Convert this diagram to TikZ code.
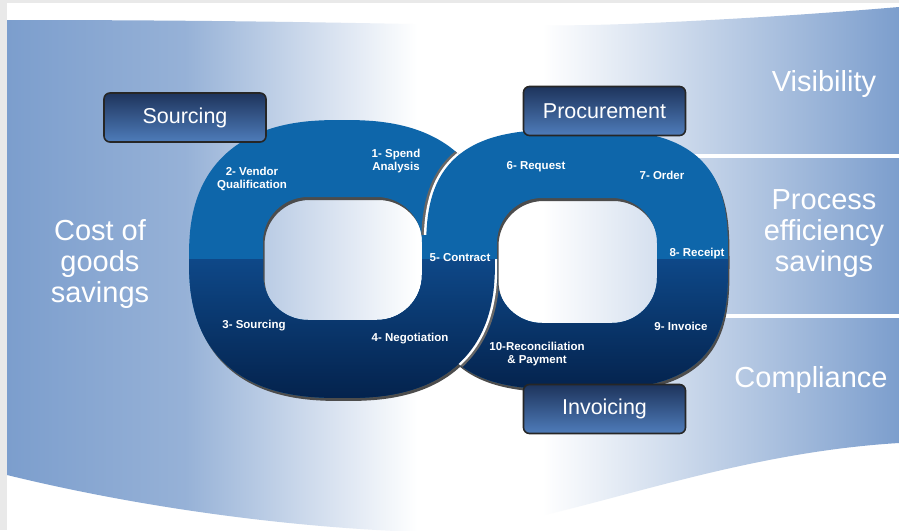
\documentclass[tikz,border=0pt]{standalone}
\usepackage{fontspec}
\setmainfont{Liberation Sans}
\usetikzlibrary{positioning}
\definecolor{framegray}{RGB}{233,233,233}
\definecolor{bandblue}{RGB}{124,158,205}
\definecolor{ringup}{RGB}{14,102,170}
\definecolor{ringlowA}{RGB}{14,72,136}
\definecolor{ringlowB}{RGB}{4,34,76}
\definecolor{boxtop}{RGB}{30,52,92}
\definecolor{boxbot}{RGB}{78,124,186}
\pgfdeclarehorizontalshading{bandshade}{100bp}{color(0bp)=(bandblue); color(25bp)=(bandblue); color(35bp)=(bandblue!80!white);
  color(48bp)=(white); color(55bp)=(white); color(75bp)=(bandblue); color(100bp)=(bandblue)}

% outer edge of a ring: centre x, centre y, x radius, y radius, 2/n
\newcommand{\ringedge}[5]{plot[smooth cycle, domain=3:357, samples=60, variable=\t]
  ({#1+#3*sign(cos(\t))*abs(cos(\t))^#5}, {#2+#4*sign(sin(\t))*abs(sin(\t))^#5})}
\newcommand{\leftouter}{\ringedge{342}{259}{153}{139}{0.8}}
\newcommand{\rightouter}{\ringedge{577}{259.5}{151}{130}{0.667}}
\newcommand{\lefthole}{(263,197) [rounded corners=45pt] rectangle (422,320)}
\newcommand{\righthole}{(497,198) [rounded corners=45pt] rectangle (657,323)}

\begin{document}
\begin{tikzpicture}[x=1pt, y=-1pt,
    stepnode/.style={text=white, font=\bfseries\fontsize{11.5}{13.5}\selectfont, align=center, inner sep=0pt},
    bignote/.style={text=white, font=\fontsize{29}{31}\selectfont, align=center},
    tab/.style={draw=black!85, line width=1.6pt, rounded corners=6pt, top color=boxtop, bottom color=boxbot,
      text=white, font=\fontsize{21.5}{24}\selectfont, minimum width=162pt, minimum height=49pt},
    gap/.style={draw=white, line width=5pt},
    cast/.style={draw=black!60, line width=10pt}]
  \useasboundingbox (0,0) rectangle (899,530);
  \fill[framegray] (0,0) rectangle (899,530);
  \fill[white] (7,3) rectangle (899,530);
  \shade[shading=bandshade]
    (7,20) .. controls (400,20) and (500,30) .. (650,23) .. controls (760,18) and (840,12) .. (899,7)
    -- (899,443) .. controls (700,455) and (540,535) .. (420,532) .. controls (300,528) and (150,510) .. (7,475) -- cycle;
  \draw[white, line width=3.5pt] (680,156) -- (899,156);
  \draw[white, line width=3.5pt] (700,316) -- (899,316);

  \node[bignote] (cost) at (100,264) {Cost of\\goods\\savings};
  \node[bignote] (visibility) at (824,84) {Visibility};
  \node[bignote] (process) at (824,234) {Process\\efficiency\\savings};
  \node[bignote] (compliance) at (811,380) {Compliance};

  \fill[black!70, even odd rule, shift={(1.5,3)}] \leftouter \lefthole;
  \fill[black!70, even odd rule, shift={(1.5,3)}] \rightouter \righthole;

  \fill[ringup, even odd rule] \leftouter \lefthole;
  \begin{scope}[even odd rule]
    \clip (0,259) rectangle (899,530);
    \clip \leftouter \lefthole;
    \shade[top color=ringlowA, bottom color=ringlowB] (180,259) rectangle (500,400);
  \end{scope}

  \begin{scope}[even odd rule]
    \clip (0,0) rectangle (899,234);
    \clip \leftouter \lefthole;
    \draw[cast] \rightouter;
    \draw[gap] \rightouter;
  \end{scope}
  \fill[ringup, even odd rule] \rightouter \righthole;
  \begin{scope}[even odd rule]
    \clip (0,259) rectangle (899,530);
    \clip \rightouter \righthole;
    \shade[top color=ringlowA, bottom color=ringlowB] (420,259) rectangle (740,392);
  \end{scope}

  \begin{scope}[even odd rule]
    \clip (342,259) rectangle (899,530);
    \begin{scope}
      \clip \rightouter \righthole;
      \draw[cast] \leftouter;
      \draw[gap] \leftouter;
    \end{scope}
    \clip \leftouter \lefthole;
    \shade[top color=ringlowA, bottom color=ringlowB] (180,259) rectangle (500,400);
  \end{scope}

  \node[tab] (sourcing) at (185,117.5) {Sourcing};
  \node[tab] (procurement) at (604.5,111) {Procurement};
  \node[tab] (invoicing) at (604.5,409) {Invoicing};

  \node[stepnode] (s1) at (396,161) {1- Spend\\Analysis};
  \node[stepnode] (s2) at (252,179) {2- Vendor\\Qualification};
  \node[stepnode] (s3) at (254,326) {3- Sourcing};
  \node[stepnode] (s4) at (410,339) {4- Negotiation};
  \node[stepnode] (s5) at (460,258) {5- Contract};
  \node[stepnode] (s6) at (536,167) {6- Request};
  \node[stepnode] (s7) at (662,175) {7- Order};
  \node[stepnode] (s8) at (697,254) {8- Receipt};
  \node[stepnode] (s9) at (681,326) {9- Invoice};
  \node[stepnode] (s10) at (537,354) {10-Reconciliation\\\& Payment};
\end{tikzpicture}
\end{document}
